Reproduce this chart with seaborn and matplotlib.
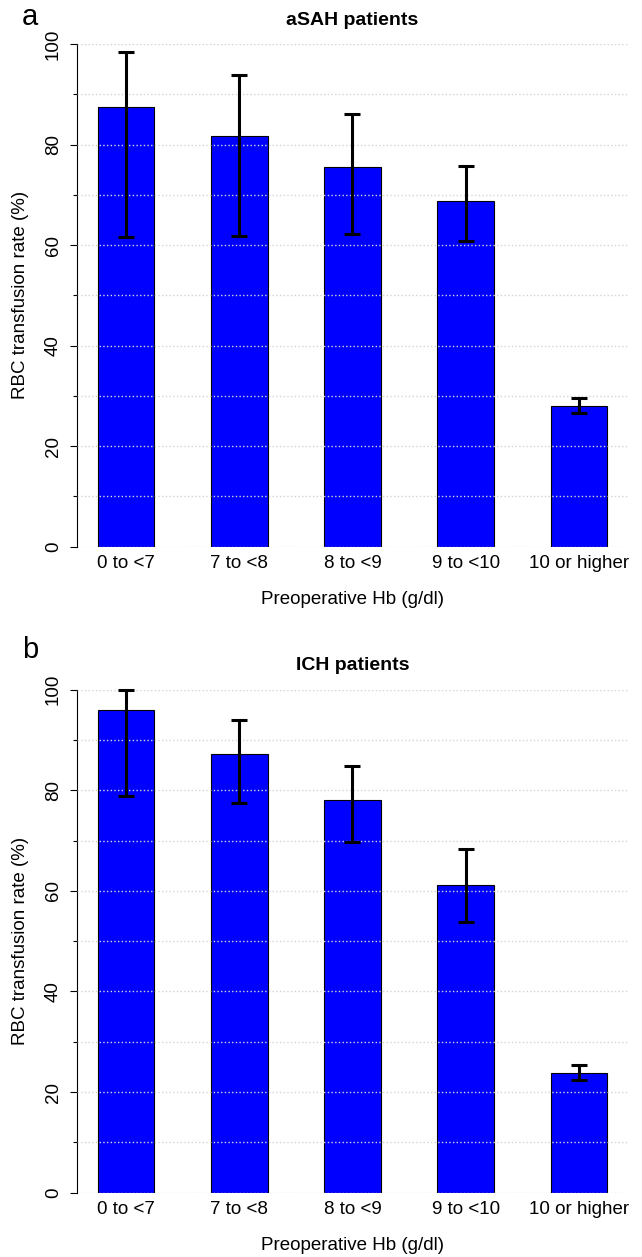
import matplotlib
matplotlib.use("Agg")
import matplotlib.pyplot as plt
import seaborn as sns
import pandas as pd
import numpy as np

# Data
categories = ['0 to <7', '7 to <8', '8 to <9', '9 to <10', '10 or higher']

asah_rate = [87.5, 81.6, 75.6, 68.8, 28.0]
asah_lower = [61.7, 61.9, 62.2, 60.9, 26.5]
asah_upper = [98.5, 93.9, 86.1, 75.7, 29.5]

ich_rate = [96.0, 87.3, 78.0, 61.1, 23.8]
ich_lower = [78.9, 77.4, 69.8, 53.8, 22.3]
ich_upper = [100.0, 94.0, 84.8, 68.3, 25.3]

major_ticks = [0, 20, 40, 60, 80, 100]
minor_ticks = [10, 30, 50, 70, 90]


def draw_panel(ax, rate, lower, upper, title):
    df = pd.DataFrame({'Hb': categories, 'rate': rate})
    sns.barplot(data=df, x='Hb', y='rate', color='#0000ff', saturation=1,
                width=0.5, edgecolor='black', linewidth=0.8, ax=ax)

    # error bars centered on the drawn bars
    xs = [p.get_x() + p.get_width() / 2 for p in ax.patches]
    rate = np.array(rate)
    yerr = [rate - np.array(lower), np.array(upper) - rate]
    ax.errorbar(xs, rate, yerr=yerr, fmt='none', ecolor='black',
                elinewidth=2.2, capsize=6, capthick=2.2, zorder=4, clip_on=False)

    ax.set_xlim(-0.43, 4.43)
    ax.set_ylim(0, 100)
    ax.set_yticks(major_ticks)
    ax.set_yticks(minor_ticks, minor=True)

    # dotted grid on top of the bars, like R's grid()
    ax.set_axisbelow(False)
    ax.grid(axis='y', which='both', color='#d3d3d3', linestyle=':', linewidth=1.0)
    ax.grid(axis='x', visible=False)

    for s in ['top', 'right', 'bottom']:
        ax.spines[s].set_visible(False)
    ax.spines['left'].set_bounds(0, 100)
    ax.spines['left'].set_linewidth(0.8)
    ax.spines['left'].set_color('black')

    ax.tick_params(axis='x', length=0, pad=6, labelsize=13.5, labelcolor='black')
    ax.tick_params(axis='y', which='major', length=5, width=0.8, pad=6,
                   labelsize=13.5, labelrotation=90, left=True,
                   color='black', labelcolor='black')
    ax.tick_params(axis='y', which='minor', length=3, width=0.8, left=True,
                   color='black')
    for lab in ax.get_yticklabels():
        lab.set_va('center')

    ax.set_title(title, fontsize=14, fontweight='bold', pad=14, color='black')
    ax.set_xlabel('Preoperative Hb (g/dl)', fontsize=13.5, color='black')
    ax.set_ylabel('RBC transfusion rate (%)', fontsize=13.5, color='black')
    ax.xaxis.set_label_coords(0.5, -0.106)
    ax.xaxis.label.set_va('center')
    ax.yaxis.set_label_coords(-0.104, 0.5)
    ax.yaxis.label.set_va('center')


sns.set_theme(style="white")
plt.rcParams['font.family'] = ['Liberation Sans', 'DejaVu Sans']

fig = plt.figure(figsize=(6.42, 12.57), dpi=100)
ax1 = fig.add_axes([0.1204, 0.5651, 0.8573, 0.3999])
ax2 = fig.add_axes([0.1204, 0.0512, 0.8573, 0.4001])

draw_panel(ax1, asah_rate, asah_lower, asah_upper, 'aSAH patients')
draw_panel(ax2, ich_rate, ich_lower, ich_upper, 'ICH patients')

fig.text(22 / 642, 1 - 25 / 1257, 'a', fontsize=21, va='baseline', ha='left', color='black')
fig.text(22 / 642, 1 - 658 / 1257, 'b', fontsize=21, va='baseline', ha='left', color='black')

fig.savefig('out.png', dpi=100, facecolor='white')
